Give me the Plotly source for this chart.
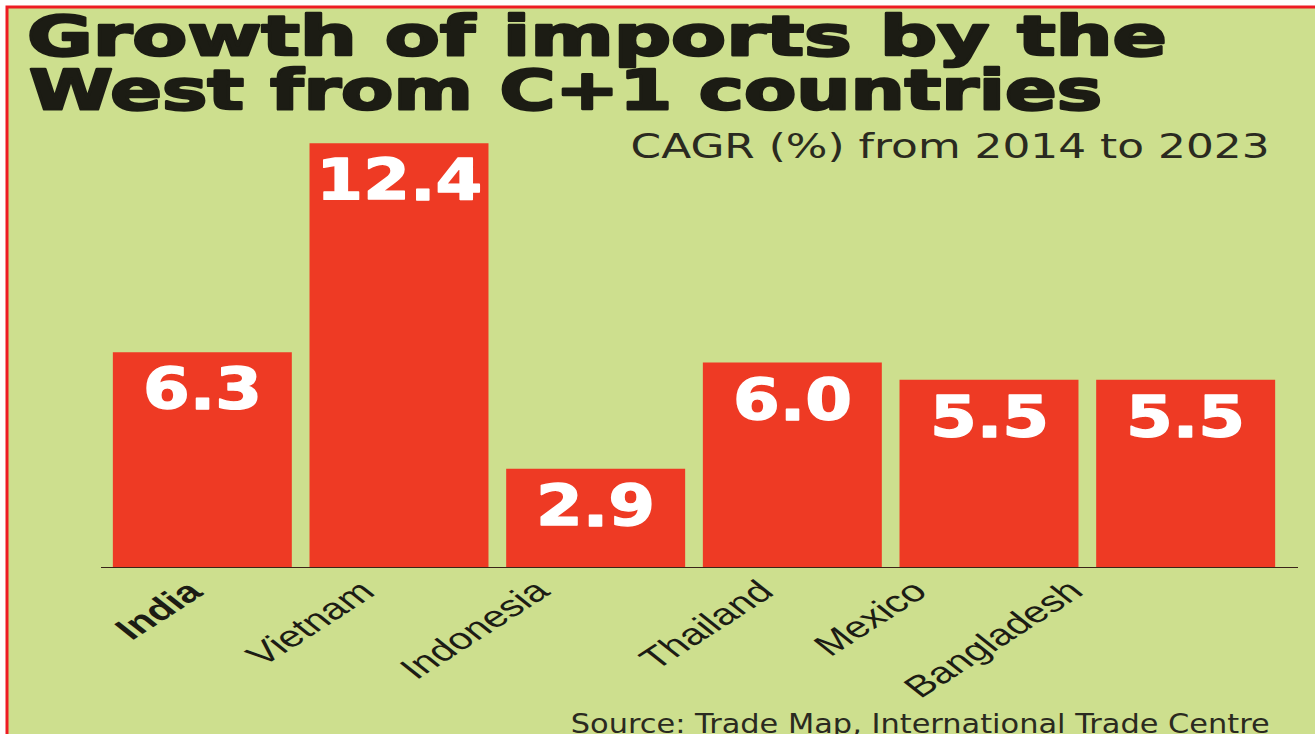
import json
import plotly.graph_objects as go

# CAGR of western imports, 2014-2023
countries = ["India", "Vietnam", "Indonesia", "Thailand", "Mexico", "Bangladesh"]
cagr = [6.3, 12.4, 2.9, 6.0, 5.5, 5.5]
tick_text = ["<b>India</b>", "Vietnam", "Indonesia", "Thailand", "Mexico", "Bangladesh"]
# horizontal offset (px) of each slanted category label from its bar centre
label_shift = [11, -13, -36, -8, -51, -92]

title_lines = ["Growth of imports by the", "West from C+1 countries"]
subtitle = "CAGR (%) from 2014 to 2023"
source = "Source: Trade Map, International Trade Centre"

W, H = 1315, 734
ML, MR, MT, MB = 104, 31, 100, 166
PW, PH = W - ML - MR, H - MT - MB

BG = "#cddf8e"
BAR = "#ee3a24"
INK = "#1c1c14"


def px_x(p):
    return (p - ML) / PW


def px_y(p):
    return (H - MB - p) / PH


fig = go.Figure(
    go.Bar(
        x=countries,
        y=cagr,
        marker=dict(color=BAR, line=dict(width=0)),
        hoverinfo="skip",
    )
)

annotations = []
# per annotation: [width mode, width px or factor, stroke colour, stroke px, horizontal scale]
stretch = []

# value labels inside the bars
for c, v in zip(countries, cagr):
    stretch.append(["f", 1.18, "white", 1.4, 1.0])
    annotations.append(dict(
        x=c, y=v, xref="x", yref="y", text=f"{v:.1f}", showarrow=False,
        yanchor="top", yshift=-2,
        font=dict(family="DejaVu Sans", size=57, color="white", weight="bold"),
    ))

# slanted category labels under the axis
for c, t, dx in zip(countries, tick_text, label_shift):
    stretch.append(["f", 1.0, None, 0, 1.4])
    annotations.append(dict(
        x=c, y=px_y(571), xref="x", yref="paper", text=t, showarrow=False,
        textangle=-42, xanchor="right", yanchor="top", xshift=dx,
        font=dict(family="Liberation Sans", size=30, color=INK),
    ))

title_font = dict(family="DejaVu Sans", size=55, color=INK, weight="bold")
stretch.append(["w", 1140, INK, 2.4, 1.0])
annotations.append(dict(x=px_x(25), y=px_y(36), xref="paper", yref="paper",
                        text=title_lines[0], showarrow=False, xanchor="left",
                        align="left", yanchor="middle", font=title_font))
stretch.append(["w", 1073, INK, 2.4, 1.0])
annotations.append(dict(x=px_x(27), y=px_y(90), xref="paper", yref="paper",
                        text=title_lines[1], showarrow=False, xanchor="left",
                        align="left", yanchor="middle", font=title_font))
stretch.append(["w", 639, None, 0, 1.0])
annotations.append(dict(x=px_x(1272), y=px_y(146), xref="paper", yref="paper",
                        text=subtitle, showarrow=False, xanchor="right",
                        align="right", yanchor="middle",
                        font=dict(family="DejaVu Sans", size=34, color="#2a2a20")))
stretch.append(["w", 699, None, 0, 1.0])
annotations.append(dict(x=px_x(1272), y=px_y(723), xref="paper", yref="paper",
                        text=source, showarrow=False, xanchor="right",
                        align="right", yanchor="middle",
                        font=dict(family="DejaVu Sans", size=27, color="#2a2a20")))

shapes = [
    dict(type="rect", xref="paper", yref="paper",
         x0=px_x(7), x1=px_x(W + 20), y0=px_y(H + 20), y1=px_y(7),
         fillcolor=BG, line=dict(color="#ee1c24", width=3), layer="below"),
    # baseline under the bars
    dict(type="line", xref="paper", yref="y", x0=px_x(101), x1=px_x(1298),
         y0=0, y1=0, line=dict(color="#3a2418", width=2), layer="above"),
]

fig.update_layout(
    width=W, height=H,
    margin=dict(l=ML, r=MR, t=MT, b=MB),
    paper_bgcolor="white",
    plot_bgcolor=BG,
    bargap=0.09,
    showlegend=False,
    annotations=annotations,
    shapes=shapes,
    xaxis=dict(showticklabels=False, showline=False, ticks="",
               showgrid=False, zeroline=False),
    yaxis=dict(range=[0, PH / 34.25], visible=False, showgrid=False, zeroline=False),
)

# poster-style lettering: widen texts with SVG textLength and give the slanted
# labels a horizontal stretch about their upper-right corner
post_js = """
var gd = document.getElementById('{plot_id}');
var spec = %s;
function widen() {
  var anns = gd.querySelectorAll('g.annotation');
  anns.forEach(function (a, i) {
    var s = spec[i];
    if (!s) return;
    var t = a.querySelector('text');
    if (!t) return;
    var w = t.getComputedTextLength();
    var target = s[0] === 'w' ? s[1] : w * s[1];
    if (Math.abs(target - w) > 0.5) {
      t.setAttribute('textLength', target);
      t.setAttribute('lengthAdjust', 'spacingAndGlyphs');
    }
    if (s[2]) {
      t.style.stroke = s[2];
      t.style.strokeWidth = s[3] + 'px';
      t.style.strokeLinejoin = 'round';
    }
    if (s[4] && s[4] !== 1) {
      var svgBox = a.ownerSVGElement.getBoundingClientRect();
      var r = t.getBoundingClientRect();
      var ax = r.right - svgBox.left, ay = r.top - svgBox.top;
      var old = a.getAttribute('transform') || '';
      a.setAttribute('transform', 'translate(' + ax + ',' + ay + ') scale(' + s[4] +
        ',1) translate(' + (-ax) + ',' + (-ay) + ') ' + old);
    }
  });
}
widen();
""" % json.dumps(stretch)

fig.write_html("out.html", post_script=post_js)
